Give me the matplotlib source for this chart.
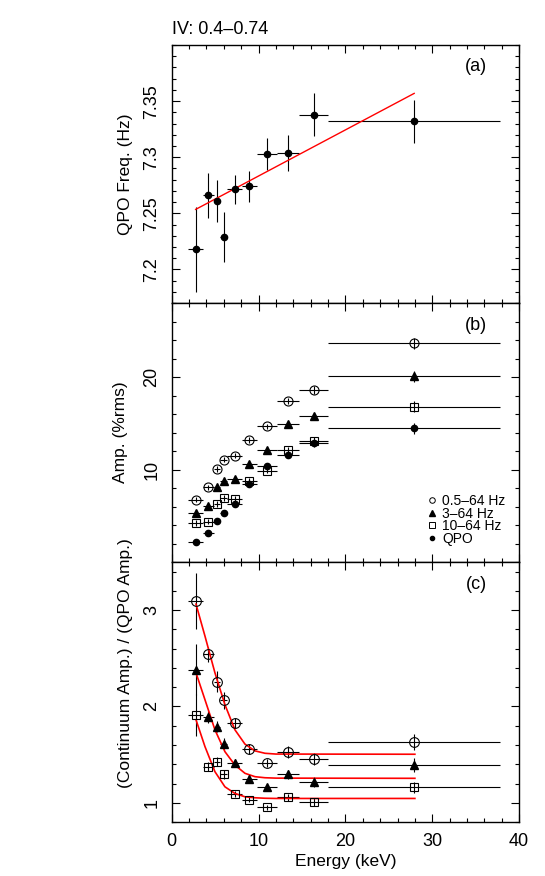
import numpy as np
import matplotlib
matplotlib.use('Agg')
import matplotlib.pyplot as plt
from matplotlib.ticker import MultipleLocator, FixedLocator, FuncFormatter
from matplotlib.lines import Line2D

plt.rcParams['font.family'] = ['Liberation Sans', 'DejaVu Sans']

# energy bins (keV)
energy = [2.76, 4.22, 5.25, 6.04, 7.28, 8.92, 10.97, 13.42, 16.34, 27.92]
e_lo = [1.9, 3.6, 4.9, 5.6, 6.4, 8.1, 9.8, 12.1, 14.7, 18.0]
e_hi = [3.6, 4.9, 5.6, 6.4, 8.1, 9.8, 12.1, 14.7, 18.0, 37.8]

# (a) QPO frequency
freq = [7.2178, 7.266, 7.261, 7.229, 7.2713, 7.274, 7.303, 7.304, 7.338, 7.332]
freq_err = [0.038, 0.020, 0.019, 0.022, 0.013, 0.0135, 0.014, 0.016, 0.019, 0.019]
fit_a_x = [2.76, 27.92]
fit_a_y = [7.2535, 7.3569]

# (b) amplitudes (%rms)
amp_05 = [6.75, 8.08, 10.07, 11.08, 11.52, 13.17, 14.66, 17.4, 18.59, 23.65]
amp_3 = [5.31, 6.02, 8.08, 8.73, 8.99, 10.65, 12.09, 14.88, 15.77, 20.1]
amp_10 = [4.22, 4.37, 6.28, 6.93, 6.83, 8.81, 9.89, 12.09, 13.07, 16.79]
amp_qpo = [2.12, 3.14, 4.47, 5.31, 6.28, 8.48, 10.36, 11.55, 12.82, 14.47]
amp_err = [0.3, 0.3, 0.3, 0.3, 0.3, 0.3, 0.3, 0.35, 0.4, 0.6]

# (c) continuum / QPO amplitude ratios
rat_05 = [3.097, 2.54, 2.256, 2.064, 1.828, 1.556, 1.41, 1.525, 1.452, 1.63]
rat_05_err = [0.29, 0.078, 0.11, 0.09, 0.05, 0.05, 0.04, 0.06, 0.06, 0.08]
rat_3 = [2.384, 1.89, 1.79, 1.61, 1.416, 1.246, 1.16, 1.295, 1.218, 1.39]
rat_3_err = [0.26, 0.06, 0.06, 0.06, 0.04, 0.04, 0.04, 0.05, 0.05, 0.07]
rat_10 = [1.914, 1.375, 1.427, 1.295, 1.09, 1.034, 0.951, 1.055, 1.01, 1.16]
rat_10_err = [0.22, 0.05, 0.05, 0.05, 0.03, 0.03, 0.03, 0.04, 0.04, 0.06]

# model curves
curve_e = [2.8, 3.83, 4.98, 6.13, 7.28, 8.44, 9.59, 10.74, 12.0, 28.0]
curve_05 = [3.063, 2.732, 2.35, 2.019, 1.758, 1.609, 1.539, 1.514, 1.506, 1.504]
curve_3 = [2.35, 2.071, 1.758, 1.531, 1.392, 1.306, 1.271, 1.26, 1.256, 1.254]
curve_10 = [1.862, 1.584, 1.323, 1.166, 1.097, 1.062, 1.052, 1.047, 1.045, 1.045]

energy = np.array(energy)
xerr = [energy - np.array(e_lo), np.array(e_hi) - energy]

fig = plt.figure(figsize=(5.45, 8.76), dpi=100)
L, W = 0.315, 0.6375
ax_a = fig.add_axes([L, 0.654, W, 0.2946])
ax_b = fig.add_axes([L, 0.3584, W, 0.2956], sharex=ax_a)
ax_c = fig.add_axes([L, 0.0616, W, 0.2968], sharex=ax_a)

eb = dict(ecolor='black', elinewidth=0.8, capsize=0, linestyle='none')

# (a)
ax_a.errorbar(energy, freq, xerr=xerr, yerr=freq_err, fmt='o', ms=4.5,
              color='black', **eb)
ax_a.plot(fit_a_x, fit_a_y, color='red', lw=1.0)
ax_a.set_ylim(7.17, 7.40)
ax_a.yaxis.set_major_locator(FixedLocator([7.2, 7.25, 7.3, 7.35]))
ax_a.yaxis.set_minor_locator(MultipleLocator(0.01))
ax_a.yaxis.set_major_formatter(FuncFormatter(lambda v, p: '%g' % round(v, 2)))
ax_a.set_ylabel('QPO Freq. (Hz)')

# (b)
ax_b.errorbar(energy, amp_05, xerr=xerr, yerr=amp_err, fmt='o', ms=6.5,
              mfc='none', mec='black', mew=0.8, **eb)
ax_b.errorbar(energy, amp_3, xerr=xerr, yerr=amp_err, fmt='^', ms=5.5,
              color='black', **eb)
ax_b.errorbar(energy, amp_10, xerr=xerr, yerr=amp_err, fmt='s', ms=5.5,
              mfc='none', mec='black', mew=0.8, **eb)
ax_b.errorbar(energy, amp_qpo, xerr=xerr, yerr=amp_err, fmt='o', ms=4.5,
              color='black', **eb)
ax_b.set_ylim(0, 28)
ax_b.yaxis.set_major_locator(FixedLocator([10, 20]))
ax_b.yaxis.set_minor_locator(MultipleLocator(2))
ax_b.set_ylabel('Amp. (%rms)')

handles = [
    Line2D([], [], marker='o', ls='none', ms=4, mfc='none', mec='black', mew=0.7),
    Line2D([], [], marker='^', ls='none', ms=4.5, color='black'),
    Line2D([], [], marker='s', ls='none', ms=4, mfc='none', mec='black', mew=0.7),
    Line2D([], [], marker='o', ls='none', ms=3, color='black'),
]
ax_b.legend(handles, ['0.5–64 Hz', '3–64 Hz', '10–64 Hz', 'QPO'],
            loc='lower right', bbox_to_anchor=(0.985, 0.03), frameon=False,
            fontsize=10, handlelength=0.8, handletextpad=0.35,
            labelspacing=-0.1, borderaxespad=0.2)

# (c)
ax_c.errorbar(energy, rat_05, xerr=xerr, yerr=rat_05_err, fmt='o', ms=7,
              mfc='none', mec='black', mew=0.8, **eb)
ax_c.errorbar(energy, rat_3, xerr=xerr, yerr=rat_3_err, fmt='^', ms=5.5,
              color='black', **eb)
ax_c.errorbar(energy, rat_10, xerr=xerr, yerr=rat_10_err, fmt='s', ms=5.5,
              mfc='none', mec='black', mew=0.8, **eb)
for cy in (curve_05, curve_3, curve_10):
    ax_c.plot(curve_e, cy, color='red', lw=1.2)
ax_c.set_ylim(0.8, 3.5)
ax_c.yaxis.set_major_locator(FixedLocator([1, 2, 3]))
ax_c.yaxis.set_minor_locator(MultipleLocator(0.2))
ax_c.set_ylabel('(Continuum Amp.) / (QPO Amp.)')
ax_c.set_xlabel('Energy (keV)', fontsize=12.5, labelpad=3)

ax_c.set_xlim(0, 40)
ax_c.xaxis.set_major_locator(MultipleLocator(10))
ax_c.xaxis.set_minor_locator(MultipleLocator(2))

for ax, lab, ly, lx in ((ax_a, '(a)', 0.5, -0.112),
                        (ax_b, '(b)', 0.5, -0.126),
                        (ax_c, '(c)', 0.61, -0.112)):
    ax.tick_params(which='both', direction='in', top=True, right=True,
                   labelsize=13, width=0.8)
    ax.tick_params(which='major', length=5.5, pad=8)
    ax.tick_params(which='minor', length=3)
    for t in ax.get_yticklabels():
        t.set_rotation(90)
        t.set_va('center')
    for s in ax.spines.values():
        s.set_linewidth(1.0)
    ax.yaxis.label.set_size(12.5)
    ax.yaxis.set_label_coords(lx, ly)
    ax.text(0.877, 0.915, lab, transform=ax.transAxes, fontsize=13,
            ha='center', va='center')
    if ax is not ax_c:
        ax.tick_params(labelbottom=False)

fig.text(0.316, 0.957, 'IV: 0.4–0.74', fontsize=13, ha='left', va='bottom')

fig.savefig('out.png', dpi=100)
